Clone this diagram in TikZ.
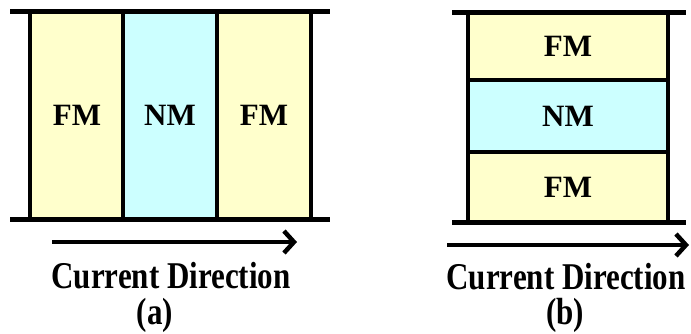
\documentclass[tikz,border=0pt]{standalone}
\usepackage{fontspec}
\setmainfont{Liberation Serif}
\usetikzlibrary{arrows.meta}
\definecolor{fmfill}{HTML}{FFFFCC}
\definecolor{nmfill}{HTML}{CCFFFF}
\newcommand{\tallcap}[1]{\scalebox{1}[1.22]{#1}}
\begin{document}
\begin{tikzpicture}[x=1pt,y=-1pt,
  layer/.style={draw=black, line width=4pt, inner sep=0pt,
    font=\fontsize{31}{33}\selectfont\bfseries},
  fm/.style={layer, fill=fmfill},
  nm/.style={layer, fill=nmfill},
  bar/.style={line width=5pt},
  flow/.style={line width=4.5pt, -{Straight Barb[length=10pt,width=22pt]}},
  caption/.style={anchor=base, inner sep=0pt,
    font=\fontsize{31}{33}\selectfont\bfseries}]
\useasboundingbox (0,0) rectangle (691,333);

% (a) current flowing in the plane of the layers
\node[fm, minimum width=94pt, minimum height=208pt] (a1) at (77,115) {FM};
\node[nm, minimum width=94pt, minimum height=208pt] (a2) at (170,115) {NM};
\node[fm, minimum width=94pt, minimum height=208pt] (a3) at (264,115) {FM};
\coordinate (atl) at (10,11);  \coordinate (atr) at (330,11);
\coordinate (abl) at (10,219); \coordinate (abr) at (330,219);
\draw[bar] (atl) -- (atr);
\draw[bar] (abl) -- (abr);
\coordinate (afrom) at (52,242); \coordinate (ato) at (297,242);
\draw[flow] (afrom) -- (ato);
\node[caption] (acap) at (171,288) {\tallcap{Current Direction}};
\node[caption] (alab) at (155,324) {\tallcap{(a)}};

% (b) current flowing perpendicular to the layers
\node[fm, minimum width=200pt, minimum height=68pt] (b1) at (568,46) {FM};
\node[nm, minimum width=200pt, minimum height=72pt] (b2) at (568,116) {NM};
\node[fm, minimum width=200pt, minimum height=70pt] (b3) at (568,187) {FM};
\coordinate (btl) at (452,12);  \coordinate (btr) at (686,12);
\coordinate (bbl) at (452,222); \coordinate (bbr) at (686,222);
\draw[bar] (btl) -- (btr);
\draw[bar] (bbl) -- (bbr);
\coordinate (bfrom) at (447,245); \coordinate (bto) at (689,245);
\draw[flow] (bfrom) -- (bto);
\node[caption] (bcap) at (566,289) {\tallcap{Current Direction}};
\node[caption] (blab) at (565,324) {\tallcap{(b)}};
\end{tikzpicture}
\end{document}
